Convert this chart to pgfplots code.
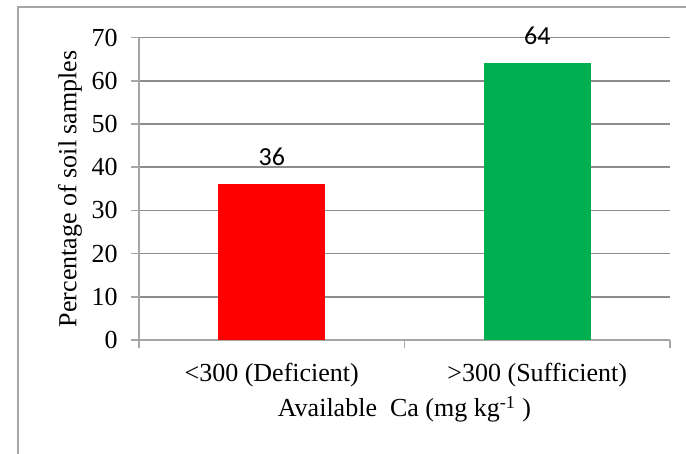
\documentclass[border=0pt]{standalone}
\usepackage{pgfplots}
\pgfplotsset{compat=1.18}
\usepackage{fontspec}
\setmainfont{Liberation Serif}
\newfontfamily\calibri{Carlito}
\definecolor{barred}{HTML}{FF0000}
\definecolor{bargreen}{HTML}{00B050}
\definecolor{axgray}{HTML}{A6A6A6}
\definecolor{gridgray}{HTML}{8C8C8C}
\begin{document}
\begin{tikzpicture}
\useasboundingbox (0,0) rectangle (343pt,227pt);
\draw[axgray, line width=0.8pt] (9pt,0pt) -- (9pt,223.5pt) -- (343pt,223.5pt);
\begin{axis}[
  at={(69.5pt,57pt)}, anchor=south west,
  scale only axis, width=265.5pt, height=151.25pt,
  xmin=-0.5, xmax=1.5, ymin=0, ymax=70,
  axis lines*=left,
  axis line style={draw=axgray, line width=0.8pt, -},
  ytick={0,10,...,70},
  xtick={0,1},
  xticklabels={{<300 (Deficient)},{>300 (Sufficient)}},
  minor xtick={-0.5,0.5,1.5},
  tick align=outside,
  major tick length=4pt, minor tick length=4pt,
  tick style={draw=axgray, line width=0.8pt},
  major x tick style={draw=none},
  minor x tick style={draw=axgray, line width=0.8pt},
  ymajorgrids=true,
  major grid style={draw=gridgray, line width=0.8pt},
  /pgf/number format/assume math mode=true,
  ticklabel style={font=\fontsize{13}{15}\selectfont},
  yticklabel style={anchor=east, inner sep=0pt, xshift=-6.5pt},
  xticklabel style={anchor=base, inner sep=0pt, yshift=-17pt},
  every axis x label/.style={at={(axis description cs:0.5,-0.2545)}, anchor=base},
  every axis y label/.style={at={(axis description cs:-0.13,0.5)}, anchor=center, rotate=90},
  label style={font=\fontsize{13}{15}\selectfont},
  xlabel={Available\ \ Ca (mg kg\textsuperscript{-1} )},
  ylabel={Percentage of soil samples},
  nodes near coords,
  nodes near coords style={font=\calibri\fontsize{13}{13}\selectfont, anchor=south, inner sep=0pt, yshift=9pt, text=black},
  clip=false,
]
\addplot[ybar, bar shift=0pt, bar width=53.5pt, fill=barred, draw=none] coordinates {(0,36)};
\addplot[ybar, bar shift=0pt, bar width=53.5pt, fill=bargreen, draw=none] coordinates {(1,64)};
\end{axis}
\end{tikzpicture}
\end{document}
